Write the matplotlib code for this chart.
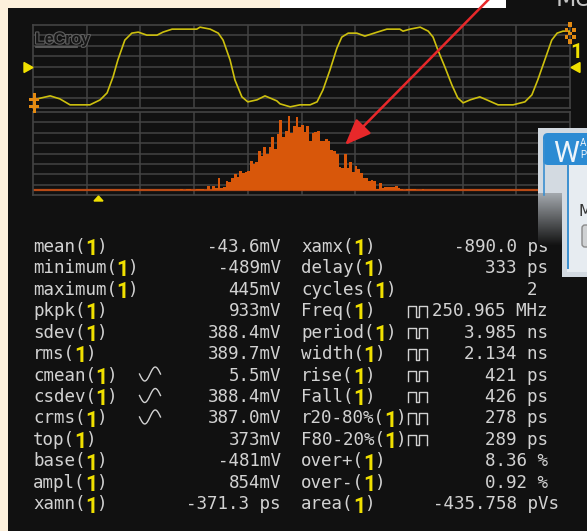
import numpy as np
import matplotlib
matplotlib.use("Agg")
import matplotlib.pyplot as plt
from matplotlib.patches import Rectangle, FancyBboxPatch, Polygon
from matplotlib.colors import LinearSegmentedColormap
import matplotlib.patheffects as pe

W, H = 587, 531

# channel 1 trace: time in ns (1 ns/div), level in mV (125 mV/div)
wave_t = [0.0, 0.32, 0.50, 0.69, 1.06, 1.25, 1.38, 1.49, 1.58, 1.71,
          1.84, 1.96, 2.12, 2.31, 2.42, 2.59, 3.05, 3.11, 3.30, 3.45,
          3.54, 3.67, 3.76, 3.89, 4.00, 4.17, 4.32, 4.54, 4.60, 4.79,
          4.97, 5.16, 5.29, 5.40, 5.53, 5.66, 5.75, 5.87, 6.03, 6.18,
          6.41, 6.59, 6.83, 6.89, 7.02, 7.21, 7.36, 7.45, 7.54, 7.67,
          7.80, 7.91, 8.01, 8.14, 8.32, 8.45, 8.66, 8.94, 9.16, 9.29,
          9.40, 9.53, 9.66, 9.76, 9.87, 10.0]
wave_mv = [-402, -354, -390, -462, -462, -402, -318, -126, 78, 318,
           402, 414, 378, 378, 414, 450, 450, 474, 450, 402,
           318, 78, -162, -366, -426, -402, -354, -414, -450, -486,
           -462, -462, -426, -282, -42, 222, 354, 402, 402, 366,
           414, 450, 450, 426, 450, 474, 426, 354, 198, -6,
           -222, -378, -438, -402, -366, -402, -462, -462, -426, -342,
           -162, 78, 318, 402, 426, 426]

# histogram trace: counts per 0.05 div bin
hist_x0 = 2.74
hist_bin = 0.05
hist_counts = [1, 0, 1, 1, 0, 0, 1, 1, 1, 0, 4, 0, 4, 2,
               12, 2, 3, 9, 8, 12, 16, 13, 19, 17, 18, 19, 29, 26, 28, 39,
               34, 43, 36, 43, 53, 41, 56, 70, 53, 59, 74, 57, 64, 73, 63,
               65, 58, 64, 49, 57, 58, 59, 49, 49, 51, 49, 40, 39, 36, 23,
               22, 36, 22, 28, 18, 24, 21, 17, 12, 12, 9, 10, 9, 1, 7,
               2, 3, 3, 3, 3, 4, 2, 1, 0, 1, 1, 1, 1, 0, 0, 1]

# measurement table
left_names = ["mean", "minimum", "maximum", "pkpk", "sdev", "rms", "cmean",
              "csdev", "crms", "top", "base", "ampl", "xamn"]
left_icons = ["", "", "", "", "", "", "sine", "sine", "sine", "", "", "", ""]
left_values = ["-43.6mV", "-489mV", "445mV", "933mV", "388.4mV", "389.7mV",
               "5.5mV", "388.4mV", "387.0mV", "373mV", "-481mV", "854mV",
               "-371.3 ps"]

right_names = ["xamx", "delay", "cycles", "Freq", "period", "width", "rise",
               "Fall", "r20-80%", "F80-20%", "over+", "over-", "area"]
right_icons = ["", "", "", "pulse", "pulse", "pulse", "pulse", "pulse",
               "pulse", "pulse", "", "", ""]
right_values = ["-890.0 ps", "333 ps", "2", "250.965 MHz", "3.985 ns",
                "2.134 ns", "421 ps", "426 ps", "278 ps", "289 ps", "8.36 %",
                "0.92 %", "-435.758 pVs"]
# values that do not end on the common column (in characters)
value_shift = {"cycles": -1, "area": 1}

CREAM = "#fcf0dc"
BG = "#111111"
GRID = "#434343"
TXT = "#d2d2d2"
YEL = "#f0e000"
WAVE = "#cdc00e"
ORANGE = "#d8570a"
ORANGE_LINE = "#b84a16"
MARK = "#e38a12"

fig = plt.figure(figsize=(W / 100, H / 100), dpi=100)
fig.patch.set_facecolor(CREAM)

bg = fig.add_axes([0, 0, 1, 1], zorder=0)
bg.set_xlim(0, W)
bg.set_ylim(H, 0)
bg.axis("off")
bg.add_patch(Rectangle((8, 8), W - 8, H - 8, color=BG, lw=0))
bg.add_patch(Rectangle((506, 0), W - 506, 8, color=BG, lw=0))
bg.add_patch(Rectangle((280, 0), 226, 7.5, color="white", lw=0))
bg.text(556, 6, "Me", color="#c4c4c4", fontsize=17, va="baseline")


def panel(top, bottom):
    ax = fig.add_axes([33 / W, 1 - bottom / H, 537 / W, (bottom - top) / H], zorder=1)
    ax.set_facecolor("none")
    ax.set_xlim(0, 10)
    ax.set_xticks([])
    ax.set_yticks([])
    for s in ax.spines.values():
        s.set_color(GRID)
        s.set_linewidth(1.2)
    for k in range(1, 10):
        ax.plot([k / 10, k / 10], [0, 1], color=GRID, lw=1.1, transform=ax.transAxes)
    for k in range(1, 8):
        ax.plot([0, 1], [k / 8, k / 8], color=GRID, lw=1.1, transform=ax.transAxes)
    return ax


# waveform grid
ax_w = panel(25, 108)
ax_w.set_ylim(-500, 500)
ax_w.plot(wave_t, wave_mv, color=WAVE, lw=1.2, zorder=3)

# histogram grid
ax_h = panel(112, 195)
ax_h.set_ylim(-5.5, 77.5)
ax_h.axhline(0, color=ORANGE_LINE, lw=1.6, zorder=2)
edges = hist_x0 + hist_bin * np.arange(len(hist_counts) + 1)
ax_h.stairs(hist_counts, edges, fill=True, color=ORANGE, zorder=3)

# measurement rows
ROW_Y0, ROW_DY, CW = 251.7, 21.47, 10.55
mono = dict(family="DejaVu Sans Mono", fontsize=12.6, color=TXT, va="baseline")
columns = [(33, 281, left_names, left_icons, left_values),
           (301, 548, right_names, right_icons, right_values)]
for x0, xr, names, icons, values in columns:
    for i, (name, icon, val) in enumerate(zip(names, icons, values)):
        y = ROW_Y0 + i * ROW_DY
        c = len(name) + 1
        bg.text(x0, y, name + "(", **mono)
        bg.text(x0 + (c + 0.5) * CW, y + 3.3, "1", color=YEL, fontsize=15.5,
                family="Roboto", fontweight="bold", ha="center", va="baseline")
        bg.text(x0 + (c + 1) * CW + 0.5, y, ")", **mono)
        ix = x0 + 10 * CW + 1
        if icon == "pulse":
            px = np.array([0, 0, 0.4, 0.4, 0.55, 0.55, 0.95, 0.95]) * 21
            py = np.array([0, 1, 1, 0, 0, 1, 1, 0]) * 10.5
            bg.plot(ix + px, y + 0.5 - py, color=TXT, lw=1.0)
        elif icon == "sine":
            u = np.linspace(0, 1, 40)
            bg.plot(ix + u * 21, y + 0.5 - (0.5 - 0.5 * np.sin(2 * np.pi * u)) * 14,
                    color=TXT, lw=1.0)
        bg.text(xr + value_shift.get(name, 0) * CW, y, val, ha="right", **mono)

# overlay: markers, logo, arrow, dialog
ov = fig.add_axes([0, 0, 1, 1], zorder=2)
ov.axis("off")

ov.text(35, 39, "LeCroy", family="Liberation Sans", fontsize=11.5, fontweight="bold",
        color="#161616", va="center",
        path_effects=[pe.withStroke(linewidth=1.6, foreground="#5e5e5e")])
ov.plot([36, 77], [47, 47], color="#5e5e5e", lw=1.3)

ov.add_patch(Polygon([(24, 62.5), (24, 72.5), (33, 67.5)], color=YEL))
ov.add_patch(Polygon([(580, 62.5), (580, 72.5), (571, 67.5)], color=YEL))
ov.add_patch(Polygon([(94, 201), (103, 201), (98.5, 196)], color=YEL))
ov.text(576, 58, "1", color=YEL, fontsize=15, family="Roboto", fontweight="bold",
        ha="center", va="baseline")

# ground / trigger marks
for r in [(32.5, 93, 3.5, 20), (29, 97.5, 10, 3), (29, 105, 10, 3)]:
    ov.add_patch(Rectangle(r[:2], r[2], r[3], color=MARK, lw=0))
for r in [(568, 22, 4, 5), (564.5, 28, 3.5, 3.5), (572, 28, 3.5, 3.5),
          (568.2, 31.5, 3.5, 3.5), (564.5, 35, 3.5, 3.5), (572, 35, 3.5, 3.5),
          (568, 39, 4, 5)]:
    ov.add_patch(Rectangle(r[:2], r[2], r[3], color=MARK, lw=0))

# partially visible dialog on the right
ov.add_patch(Rectangle((538, 128), 49, 65, color="#d3dae1", lw=0))
ov.add_patch(Rectangle((562, 193), 25, 84, color="#d3dae1", lw=0))
shade = LinearSegmentedColormap.from_list("shade", ["#a3a8ad", "#141414"])
ov.imshow(np.linspace(0, 1, 60)[:, None], extent=(538, 562, 245, 193), cmap=shade,
          aspect="auto", zorder=1)
ov.add_patch(FancyBboxPatch((543, 133), 60, 32, boxstyle="round,pad=0,rounding_size=5",
                            color="#2c8bd3", lw=0, zorder=2))
ov.text(566, 162, "W", color="#eef4fa", fontsize=21, family="Roboto",
        ha="center", va="baseline", zorder=3)
ov.text(583, 146, "A", color="#eef4fa", fontsize=7, family="Roboto",
        ha="center", va="baseline", zorder=3)
ov.text(583, 158, "P", color="#eef4fa", fontsize=7, family="Roboto",
        ha="center", va="baseline", zorder=3)
ov.add_patch(Rectangle((567, 165), 20, 107, color="#e7ecf1", lw=0, zorder=2))
ov.plot([567.5, 567.5], [165, 268], color="#3b8fd0", lw=1.4, zorder=3)
ov.plot([543.8, 543.8], [140, 195], color="#3b8fd0", lw=1.2, zorder=3)
ov.text(578, 216, "M", color="#333333", fontsize=11, family="DejaVu Sans",
        va="baseline", zorder=3)
ov.add_patch(FancyBboxPatch((582, 225), 12, 22, boxstyle="round,pad=0,rounding_size=3",
                            facecolor="#cfd1d3", edgecolor="#8a8a8a", lw=1, zorder=3))

ov.annotate("", xy=(345, 145), xytext=(494, -6), annotation_clip=False,
            arrowprops=dict(arrowstyle="-|>,head_length=0.8,head_width=0.32",
                            color="#e8282a", lw=1.8, mutation_scale=20,
                            shrinkA=0, shrinkB=0))

ov.set_xlim(0, W)
ov.set_ylim(H, 0)

fig.savefig("out.png", dpi=100, facecolor=fig.get_facecolor())
